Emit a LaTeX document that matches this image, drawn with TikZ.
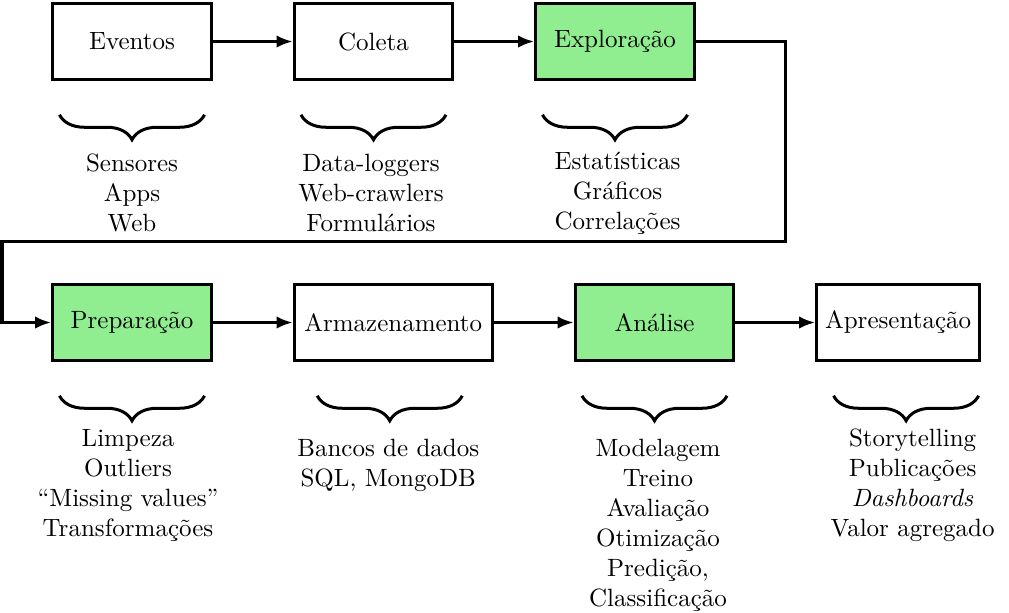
\documentclass[tikz,border=0pt]{standalone}
\usepackage{xcolor}
\usetikzlibrary{arrows.meta,positioning,decorations.pathreplacing}
\definecolor{stagegreen}{HTML}{90EE90}

\begin{document}
\begin{tikzpicture}[
  >={Latex[length=6.5pt,width=5pt]},
  stage/.style={draw,very thick,minimum width=63.4pt,minimum height=30.6pt,align=center},
  hot/.style={stage,fill=stagegreen},
  flow/.style={->,very thick},
  curly/.style={very thick,decorate,decoration={brace,amplitude=10pt}},
  items/.style={align=center,anchor=north,inner sep=0pt}]
  \useasboundingbox (0,0) rectangle (403.6pt,-244.8pt);
  % first row
  \node[stage] (eventos) at (52.8pt,-16.6pt) {Eventos};
  \node[stage,right=32pt of eventos] (coleta) {Coleta};
  \node[hot,right=32pt of coleta] (exploracao) {Exploração};
  % second row
  \node[hot,below=80.6pt of eventos] (preparacao) {Preparação};
  \node[stage,right=32pt of preparacao,minimum width=79.2pt] (armazenamento) {Armazenamento};
  \node[hot,right=32pt of armazenamento] (analise) {Análise};
  \node[stage,right=32pt of analise] (apresentacao) {Apresentação};
  \draw[flow] (eventos) -- (coleta);
  \draw[flow] (coleta) -- (exploracao);
  \coordinate (turnA) at ([xshift=36pt]exploracao.east);
  \coordinate (turnB) at (0.8pt,-96.4pt);
  \draw[flow] (exploracao.east) -- (turnA) |- (turnB) |- (preparacao.west);
  \draw[flow] (preparacao) -- (armazenamento);
  \draw[flow] (armazenamento) -- (analise);
  \draw[flow] (analise) -- (apresentacao);
  % braces and lists
  \draw[curly] ([xshift=29pt,yshift=-13.4pt]eventos.south) -- ([xshift=-29pt,yshift=-13.4pt]eventos.south);
  \coordinate (tipEventos) at ([yshift=-24pt]eventos.south);
  \node[items,below=5pt of tipEventos] (listEventos) {Sensores\\Apps\\Web};
  \draw[curly] ([xshift=29pt,yshift=-13.4pt]coleta.south) -- ([xshift=-29pt,yshift=-13.4pt]coleta.south);
  \coordinate (tipColeta) at ([yshift=-24pt]coleta.south);
  \node[items,below=5pt of tipColeta,xshift=-1pt] (listColeta) {Data-loggers\\Web-crawlers\\Formulários};
  \draw[curly] ([xshift=29pt,yshift=-13.4pt]exploracao.south) -- ([xshift=-29pt,yshift=-13.4pt]exploracao.south);
  \coordinate (tipExploracao) at ([yshift=-24pt]exploracao.south);
  \node[items,below=4.2pt of tipExploracao,xshift=1pt] (listExploracao) {Estatísticas\\Gráficos\\Correlações};
  \draw[curly] ([xshift=29pt,yshift=-13.4pt]preparacao.south) -- ([xshift=-29pt,yshift=-13.4pt]preparacao.south);
  \coordinate (tipPreparacao) at ([yshift=-24pt]preparacao.south);
  \node[items,below=2.6pt of tipPreparacao,xshift=-1.6pt] (listPreparacao) {Limpeza\\Outliers\\``Missing values''\\Transformações};
  \draw[curly] ([xshift=27.6pt,yshift=-13.4pt]armazenamento.south) -- ([xshift=-30.4pt,yshift=-13.4pt]armazenamento.south);
  \coordinate (tipArmazenamento) at ([xshift=-1.4pt,yshift=-24pt]armazenamento.south);
  \node[items,below=6.6pt of tipArmazenamento,xshift=-0.6pt] (listArmazenamento) {Bancos de dados\\SQL, MongoDB};
  \draw[curly] ([xshift=29pt,yshift=-13.4pt]analise.south) -- ([xshift=-29pt,yshift=-13.4pt]analise.south);
  \coordinate (tipAnalise) at ([yshift=-24pt]analise.south);
  \node[items,below=6.4pt of tipAnalise,xshift=1.4pt] (listAnalise) {Modelagem\\Treino\\Avaliação\\Otimização\\Predição,\\Classificação};
  \draw[curly] ([xshift=32.2pt,yshift=-13.4pt]apresentacao.south) -- ([xshift=-25.8pt,yshift=-13.4pt]apresentacao.south);
  \coordinate (tipApresentacao) at ([xshift=3.2pt,yshift=-24pt]apresentacao.south);
  \node[items,below=2.6pt of tipApresentacao,xshift=2.6pt] (listApresentacao) {Storytelling\\Publicações\\\emph{Dashboards}\\Valor agregado};
\end{tikzpicture}
\end{document}
